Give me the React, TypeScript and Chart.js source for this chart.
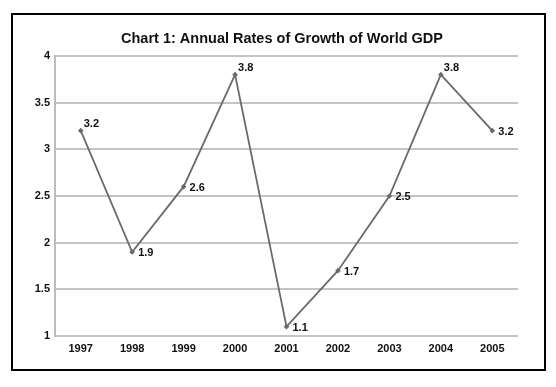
import React, { useEffect, useRef } from "react";
import { Chart, registerables } from "chart.js";

Chart.register(...registerables);

const years = ["1997", "1998", "1999", "2000", "2001", "2002", "2003", "2004", "2005"];
const growth = [3.2, 1.9, 2.6, 3.8, 1.1, 1.7, 2.5, 3.8, 3.2];
const yTicks = [1, 1.5, 2, 2.5, 3, 3.5, 4];
const titleText = "Chart 1: Annual Rates of Growth of World GDP";

const FONT = "'Liberation Sans', Arial, sans-serif";

const pointLabels = {
  id: "pointLabels",
  afterDatasetsDraw(chart: any) {
    const ctx = chart.ctx;
    const meta = chart.getDatasetMeta(0);
    const data = chart.data.datasets[0].data as number[];
    ctx.save();
    ctx.font = `bold 11px ${FONT}`;
    ctx.fillStyle = "#111";
    ctx.textAlign = "left";
    ctx.textBaseline = "middle";
    meta.data.forEach((pt: any, i: number) => {
      const v = data[i];
      const prev = i > 0 ? data[i - 1] : -Infinity;
      const next = i < data.length - 1 ? data[i + 1] : -Infinity;
      const peak = v > prev && v > next;
      ctx.fillText(String(v), pt.x + (peak ? 3 : 6), pt.y + (peak ? -7 : 1));
    });
    ctx.restore();
  },
};

const titlePlugin = {
  id: "customTitle",
  afterDraw(chart: any) {
    const ctx = chart.ctx;
    ctx.save();
    ctx.font = `bold 14.5px ${FONT}`;
    ctx.fillStyle = "#111";
    ctx.textAlign = "center";
    ctx.textBaseline = "middle";
    ctx.fillText(titleText, 282, 39);
    ctx.restore();
  },
};

export default function App() {
  const ref = useRef<HTMLCanvasElement | null>(null);

  useEffect(() => {
    document.body.style.margin = "0";
    if (!ref.current) return;
    const chart = new Chart(ref.current, {
      type: "line",
      data: {
        labels: years,
        datasets: [
          {
            data: growth,
            borderColor: "#6a6a6a",
            borderWidth: 1.8,
            backgroundColor: "#6a6a6a",
            pointStyle: "rectRot",
            pointRadius: 2.8,
            pointBorderWidth: 0,
            tension: 0,
          },
        ],
      },
      options: {
        animation: false,
        responsive: false,
        events: [],
        layout: { padding: { top: 56, left: 0, right: 38, bottom: 0 } },
        plugins: {
          legend: { display: false },
          title: { display: false },
          tooltip: { enabled: false },
        },
        scales: {
          x: {
            type: "category",
            offset: true,
            grid: { display: false, drawTicks: false },
            border: { display: false },
            ticks: {
              font: { family: FONT, size: 11, weight: "bold" },
              color: "#111",
              padding: 6,
              maxRotation: 0,
              autoSkip: false,
            },
            afterFit(scale: any) {
              scale.height = 51;
            },
          },
          y: {
            min: 1,
            max: 4,
            afterBuildTicks(scale: any) {
              scale.ticks = yTicks.map((v) => ({ value: v }));
            },
            grid: { color: "#c4c4c4", lineWidth: 2, drawTicks: false },
            border: { display: true, color: "#bdbdbd", width: 2 },
            ticks: {
              font: { family: FONT, size: 11, weight: "bold" },
              color: "#111",
              padding: 5,
              callback: (v: any) => String(v),
            },
            afterFit(scale: any) {
              scale.width = 55;
            },
          },
        },
      },
      plugins: [pointLabels, titlePlugin],
    });
    return () => chart.destroy();
  }, []);

  return (
    <div style={{ position: "relative", width: 556, height: 387, background: "#fff" }}>
      <div
        style={{
          position: "absolute",
          left: 11,
          top: 13,
          width: 531,
          height: 354,
          border: "2px solid #000",
          boxSizing: "content-box",
        }}
      />
      <canvas ref={ref} width={556} height={387} style={{ position: "absolute", left: 0, top: 0 }} />
    </div>
  );
}
